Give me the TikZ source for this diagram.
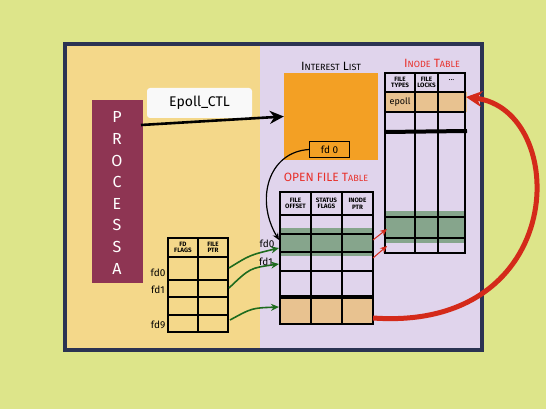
\documentclass[tikz,border=0pt]{standalone}
\usepackage{fontspec}
\setmainfont{Fira Sans}
\usetikzlibrary{arrows.meta,calc}
\definecolor{bg}{HTML}{DDE58A}
\definecolor{ypanel}{HTML}{F4D88A}
\definecolor{lav}{HTML}{E0D4EC}
\definecolor{frame}{HTML}{2B3352}
\definecolor{procred}{HTML}{8E3553}
\definecolor{orng}{HTML}{F3A024}
\definecolor{tan}{HTML}{E8C290}
\definecolor{gband}{HTML}{86A58C}
\definecolor{redar}{HTML}{D42A1A}
\definecolor{redtxt}{HTML}{E8302A}
\definecolor{grar}{HTML}{1E6B1E}
\tikzset{
  tbl/.style={line width=2.2pt, black},
  tblbox/.style={draw, line width=2.6pt, inner sep=0pt},
  hdr/.style={font=\fontsize{6.3}{6.6}\selectfont\bfseries, align=center, inner sep=0pt},
  fdlab/.style={font=\fontsize{10}{11}\selectfont, inner sep=0pt},
  ttl/.style={font=\fontsize{12}{13}\selectfont, inner sep=0pt},
  grarrow/.style={grar, line width=1.6pt, -{Stealth[length=8pt,width=7pt]}},
  rdsmall/.style={redar, line width=1pt, -{Stealth[length=7pt,width=6pt]}},
}
\begin{document}
\begin{tikzpicture}[x=1pt,y=-1pt]
\useasboundingbox (0,0) rectangle (546,409);
\fill[bg] (0,0) rectangle (546,409);
\fill[ypanel] (65,44) rectangle (260,350);
\fill[lav] (260,44) rectangle (482,350);
\draw[frame, line width=4pt] (65,44) rectangle (482,350);

% Process A
\node[fill=procred, minimum width=51pt, minimum height=183pt, inner sep=0pt] (proc) at (117,191.5) {};
\node[text=white, align=center, font=\fontsize{16}{21.6}\selectfont] (proclbl) at (117,193) {P\\R\\O\\C\\E\\S\\S\\A};

% Epoll_CTL
\node[fill=white!95!gray, rounded corners=3pt, minimum width=105pt, minimum height=30pt, inner sep=0pt, font=\fontsize{14}{16}\selectfont] (ctl) at (199.5,103) {Epoll\_CTL};

% Interest list
\node[fill=orng, minimum width=94pt, minimum height=87pt, inner sep=0pt] (interest) at (331,116.5) {};
\node[ttl] (intttl) at (331,66) {I{\fontsize{9}{10}\selectfont NTEREST} L{\fontsize{9}{10}\selectfont IST}};
\node[draw, line width=1pt, fill=orng, minimum width=40pt, minimum height=15pt, inner sep=0pt, font=\fontsize{10}{11}\selectfont] (fdzero) at (329.5,149.5) {fd 0};

\coordinate (ctlstart) at (141,125);
\draw[line width=2.6pt, -{Stealth[length=14pt,width=13pt]}] (ctlstart) -- (interest.west);

% Open file table
\node[ttl, text=redtxt] (oftttl) at (326,177) {OPEN FILE T{\fontsize{9}{10}\selectfont ABLE}};
\fill[gband] (280,228) rectangle (373,256);
\fill[tan] (280,297) rectangle (373,324);
\node[tblbox, minimum width=93pt, minimum height=132pt] (oft) at (326.5,258) {};
\foreach \y in {215,234,252,271} \draw[tbl] (280,\y) -- (373,\y);
\draw[tbl, line width=4pt] (280,297) -- (373,297);
\foreach \x in {311,342} \draw[tbl] (\x,192) -- (\x,324);
\node[hdr] (h1) at (295.5,203.5) {FILE\\OFFSET};
\node[hdr] (h2) at (326.5,203.5) {STATUS\\FLAGS};
\node[hdr] (h3) at (357.5,203.5) {INODE\\PTR};
\node[fdlab] (ofd0) at (267,244) {fd0};
\node[fdlab] (ofd1) at (266,262) {fd1};

% Inode table
\node[ttl, text=redtxt] (inottl) at (432,63) {I{\fontsize{9}{10}\selectfont NODE} T{\fontsize{9}{10}\selectfont ABLE}};
\fill[tan] (385,92) rectangle (467,112);
\fill[gband] (385,211) rectangle (465,243);
\node[tblbox, minimum width=80pt, minimum height=180pt] (inode) at (425,163) {};
\foreach \y in {92,112,217,238} \draw[tbl] (385,\y) -- (465,\y);
\draw[tbl, line width=4pt] (385,132) -- (467,131);
\foreach \x in {415,438} \draw[tbl] (\x,73) -- (\x,253);
\node[hdr] (i1) at (400,82.5) {FILE\\TYPES};
\node[hdr] (i2) at (426.5,82.5) {FILE\\LOCKS};
\node[hdr, font=\fontsize{8}{8}\selectfont] (i3) at (451.5,80) {...};
\node[font=\fontsize{9}{10}\selectfont, inner sep=0pt] (epoll) at (400,102) {epoll};

% FD table
\node[tblbox, minimum width=60pt, minimum height=94pt] (fdt) at (198,285) {};
\foreach \y in {257,280,297,315} \draw[tbl] (168,\y) -- (228,\y);
\draw[tbl] (198,238) -- (198,332);
\node[hdr] (f1) at (183,247.5) {FD\\FLAGS};
\node[hdr] (f2) at (213,247.5) {FILE\\PTR};
\node[fdlab] (pfd0) at (158,273) {fd0};
\node[fdlab] (pfd1) at (158,290) {fd1};
\node[fdlab] (pfd9) at (158,325) {fd9};

% coordinates for connectors
\coordinate (g1s) at (229,268);
\coordinate (g2s) at (229,288);
\coordinate (g3s) at (230,320);
\coordinate (g1e) at (279,248);
\coordinate (g2e) at (279,264);
\coordinate (g3e) at (279,307);
\coordinate (fdcurve) at (279,240);
\coordinate (r1s) at (373,240);
\coordinate (r2s) at (373,258);
\coordinate (r1e) at (387,229);
\coordinate (r2e) at (387,246);
\coordinate (bigs) at (373,318);
\coordinate (bige) at (466,97);

\draw[grarrow] (g1s) .. controls (250,255) .. (g1e);
\draw[grarrow] (g2s) .. controls (250,268) .. (g2e);
\draw[grarrow] (g3s) .. controls (252,308) .. (g3e);
\draw[line width=1.2pt, -{Stealth[length=7pt,width=6pt]}] (fdzero.west) .. controls (268,152) and (255,200) .. (fdcurve);
\draw[rdsmall] (r1s) -- (r1e);
\draw[rdsmall] (r2s) -- (r2e);
\draw[redar, line width=5pt, -{Stealth[length=16pt,width=16pt]}] (bigs) .. controls (570,332) and (570,110) .. (bige);
\end{tikzpicture}
\end{document}
